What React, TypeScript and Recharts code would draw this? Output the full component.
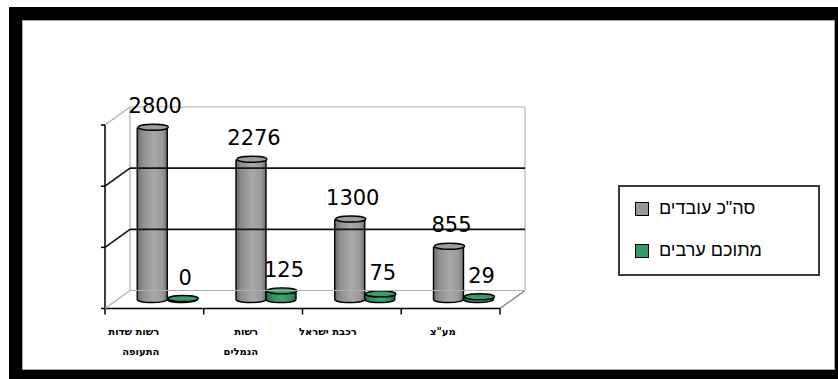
import React from 'react';
import {
  BarChart,
  Bar,
  XAxis,
  YAxis,
  ReferenceLine,
  ReferenceArea,
  LabelList,
  Legend,
} from 'recharts';

// Organisations, with wrapped label lines separated by '\n'
const categories = ['רשות שדות\nהתעופה', 'רשות\nהנמלים', 'רכבת ישראל', 'מע"צ'];
const totalEmployees = [2800, 2276, 1300, 855];
const arabEmployees = [0, 125, 75, 29];
const valueTicks = [0, 1000, 2000, 3000];
const seriesNames = ['סה"כ עובדים', 'מתוכם ערבים'];

const rows = categories.map((name, i) => ({
  name,
  total: totalEmployees[i],
  arabs: arabEmployees[i],
}));

// Half of the pseudo-3D depth: bars sit on the middle plane,
// the back wall is pushed up-right and the front axes down-left.
const DX = 12.5;
const DY = 9;
const EDGE = '#b0b0b0';
const GRID = '#111111';
const GRAY = '#999999';
const GREEN = '#339966';

const Walls = (props: any) => {
  const x = Number(props.x);
  const y = Number(props.y);
  const w = Number(props.width);
  const h = Number(props.height);
  const n = categories.length;
  const fx = x - DX;
  const fyTop = y + DY;
  const fyBottom = y + h + DY;
  const bx = x + DX;
  const byTop = y - DY;
  const byBottom = y + h - DY;
  return (
    <g>
      <defs>
        <linearGradient id="cylGray" x1="0" y1="0" x2="1" y2="0">
          <stop offset="0%" stopColor="#6a6a6a" />
          <stop offset="18%" stopColor="#8e8e8e" />
          <stop offset="55%" stopColor="#a9a9a9" />
          <stop offset="85%" stopColor="#989898" />
          <stop offset="100%" stopColor="#6e6e6e" />
        </linearGradient>
        <linearGradient id="cylGreen" x1="0" y1="0" x2="1" y2="0">
          <stop offset="0%" stopColor="#1d6842" />
          <stop offset="20%" stopColor="#2e9060" />
          <stop offset="55%" stopColor="#3ca96f" />
          <stop offset="85%" stopColor="#2c8a5a" />
          <stop offset="100%" stopColor="#1b5e3c" />
        </linearGradient>
      </defs>
      {/* back wall outline */}
      <line x1={bx} y1={byTop} x2={bx} y2={byBottom} stroke={EDGE} strokeWidth={1.2} />
      <line x1={bx + w} y1={byTop} x2={bx + w} y2={byBottom} stroke={EDGE} strokeWidth={1.2} />
      {/* floor right edge */}
      <line x1={fx + w} y1={fyBottom} x2={bx + w} y2={byBottom} stroke="#777777" strokeWidth={1.2} />
      {/* front value axis and category axis */}
      <line x1={fx} y1={fyTop} x2={fx} y2={fyBottom} stroke="#000" strokeWidth={1.5} />
      <line x1={fx} y1={fyBottom} x2={fx + w} y2={fyBottom} stroke="#000" strokeWidth={1.5} />
      {Array.from({ length: n + 1 }, (_, i) => (
        <line
          key={i}
          x1={fx + (i * w) / n}
          y1={fyBottom}
          x2={fx + (i * w) / n}
          y2={fyBottom + 6}
          stroke="#000"
          strokeWidth={1.5}
        />
      ))}
    </g>
  );
};

const WallGridLine = (props: any) => {
  const { x1, x2, y1, v } = props;
  const left = Number(x1);
  const right = Number(x2);
  const y = Number(y1);
  const inner = v !== valueTicks[0] && v !== valueTicks[valueTicks.length - 1];
  const color = inner ? GRID : EDGE;
  const sw = inner ? 1.6 : 1.2;
  return (
    <g>
      <line x1={left + DX} y1={y - DY} x2={right + DX} y2={y - DY} stroke={color} strokeWidth={sw} />
      <line x1={left - DX} y1={y + DY} x2={left + DX} y2={y - DY} stroke={color} strokeWidth={sw} />
      <line x1={left - DX - 4} y1={y + DY} x2={left - DX} y2={y + DY} stroke="#000" strokeWidth={1.5} />
    </g>
  );
};

const Cylinder = (props: any) => {
  const x = Number(props.x);
  const y = Number(props.y);
  const w = Number(props.width);
  const h = Math.max(0, Number(props.height));
  const grad = props.tone === 'gray' ? 'url(#cylGray)' : 'url(#cylGreen)';
  const cap = props.tone === 'gray' ? '#9d9d9d' : '#3a9d69';
  const rx = w / 2;
  const ry = 3;
  const bottom = y + h;
  return (
    <g>
      <path
        d={`M${x},${y} L${x},${bottom} A${rx},${ry} 0 0 0 ${x + w},${bottom} L${x + w},${y} Z`}
        fill={grad}
        stroke="#000"
        strokeWidth={1.4}
      />
      <ellipse cx={x + rx + 1} cy={y - 1} rx={rx} ry={ry} fill={cap} stroke="#000" strokeWidth={1.4} />
    </g>
  );
};

const ValueLabel = (props: any) => {
  const x = Number(props.x);
  const y = Number(props.y);
  const w = Number(props.width);
  return (
    <text
      x={x + w / 2 + 3}
      y={y - 15}
      textAnchor="middle"
      fontFamily="DejaVu Sans"
      fontSize={21}
      fill="#000"
    >
      {props.value}
    </text>
  );
};

const CategoryTick = (props: any) => {
  const x = Number(props.x);
  const y = Number(props.y);
  const lines = String(props.payload.value).split('\n');
  const right = x - DX + 5;
  return (
    <g>
      {lines.map((line, i) => (
        <text
          key={i}
          x={right}
          y={y + 35.5 + i * 20}
          textAnchor="end"
          fontFamily="DejaVu Sans"
          fontWeight="bold"
          fontSize={10}
          fill="#000"
        >
          {line}
        </text>
      ))}
    </g>
  );
};

const LegendBox = (props: any) => {
  const payload = [...(props.payload || [])].sort(
    (a: any, b: any) => seriesNames.indexOf(a.value) - seriesNames.indexOf(b.value)
  );
  return (
    <div
      style={{
        width: 198,
        height: 87,
        border: '2px solid #3a3a3a',
        background: '#fff',
        position: 'relative',
      }}
    >
      {payload.map((entry: any, i: number) => (
        <div
          key={entry.value}
          style={{
            position: 'absolute',
            left: 15,
            top: 14 + i * 42,
            display: 'flex',
            alignItems: 'center',
            height: 15,
          }}
        >
          <span
            style={{
              display: 'inline-block',
              width: 12,
              height: 12,
              background: entry.color,
              border: '1.5px solid #000',
            }}
          />
          <span
            style={{
              marginLeft: 10,
              fontFamily: 'Liberation Sans',
              fontSize: 18,
              color: '#000',
              lineHeight: '15px',
              whiteSpace: 'nowrap',
            }}
          >
            {entry.value}
          </span>
        </div>
      ))}
    </div>
  );
};

export default function App() {
  return (
    <div style={{ position: 'absolute', left: 0, top: 0, width: 838, height: 379, background: '#fff' }}>
      <div style={{ position: 'absolute', left: 9, top: 7, right: 0, bottom: 0, background: '#000' }} />
      <div
        style={{
          position: 'absolute',
          left: 22,
          top: 20,
          width: 813,
          height: 350,
          background: '#fff',
          border: '1px solid #a8a8a8',
          boxSizing: 'border-box',
        }}
      />
      <div style={{ position: 'absolute', left: 0, top: 0 }}>
        <BarChart
          width={838}
          height={379}
          data={rows}
          margin={{ top: 116, right: 325.5, bottom: 49.5, left: 117.5 }}
          barCategoryGap="20%"
          barGap={0}
        >
          <XAxis
            dataKey="name"
            height={30}
            axisLine={false}
            tickLine={false}
            tickSize={0}
            tickMargin={0}
            interval={0}
            tick={<CategoryTick />}
          />
          <YAxis domain={[0, 3000]} ticks={valueTicks} hide />
          <ReferenceArea
            y1={valueTicks[0]}
            y2={valueTicks[valueTicks.length - 1]}
            ifOverflow="visible"
            shape={(p: any) => <Walls {...p} />}
          />
          {valueTicks.map((v) => (
            <ReferenceLine
              key={v}
              y={v}
              ifOverflow="visible"
              shape={(p: any) => <WallGridLine {...p} v={v} />}
            />
          ))}
          <Bar
            dataKey="total"
            name={seriesNames[0]}
            fill={GRAY}
            isAnimationActive={false}
            shape={(p: any) => <Cylinder {...p} tone="gray" />}
          >
            <LabelList dataKey="total" content={<ValueLabel />} />
          </Bar>
          <Bar
            dataKey="arabs"
            name={seriesNames[1]}
            fill={GREEN}
            isAnimationActive={false}
            shape={(p: any) => <Cylinder {...p} tone="green" />}
          >
            <LabelList dataKey="arabs" content={<ValueLabel />} />
          </Bar>
          <Legend
            layout="vertical"
            align="center"
            verticalAlign="middle"
            wrapperStyle={{ left: 618, top: 185, width: 202, height: 91 }}
            content={<LegendBox />}
          />
        </BarChart>
      </div>
    </div>
  );
}
